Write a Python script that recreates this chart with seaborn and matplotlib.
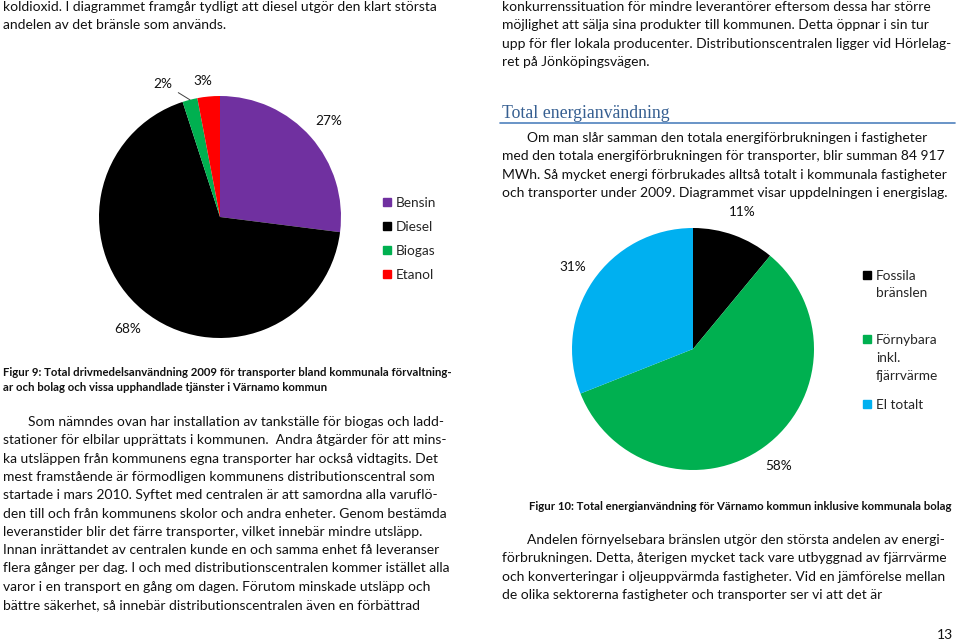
import matplotlib
matplotlib.use("Agg")
import matplotlib.pyplot as plt
from matplotlib.lines import Line2D
import numpy as np
import seaborn as sns

# ---------------- data ----------------
fuel_labels = ["Bensin", "Diesel", "Biogas", "Etanol"]
fuel_values = [27, 68, 2, 3]
fuel_colors = ["#7030A0", "#000000", "#00B050", "#FF0000"]

energy_labels = ["Fossila\nbränslen", "Förnybara\ninkl.\nfjärrvärme", "El totalt"]
energy_values = [11, 58, 31]
energy_colors = ["#000000", "#00B050", "#00B0F0"]

top_left_lines = [
    "koldioxid. I diagrammet framgår tydligt att diesel utgör den klart största",
    "andelen av det bränsle som används.",
]
top_right_lines = [
    "konkurrenssituation för mindre leverantörer eftersom dessa har större",
    "möjlighet att sälja sina produkter till kommunen. Detta öppnar i sin tur",
    "upp för fler lokala producenter. Distributionscentralen ligger vid Hörlelag-",
    "ret på Jönköpingsvägen.",
]
heading = "Total energianvändning"
energy_para = [
    "Om man slår samman den totala energiförbrukningen i fastigheter",
    "med den totala energiförbrukningen för transporter, blir summan 84 917",
    "MWh. Så mycket energi förbrukades alltså totalt i kommunala fastigheter",
    "och transporter under 2009. Diagrammet visar uppdelningen i energislag.",
]
caption9 = [
    "Figur 9: Total drivmedelsanvändning 2009 för transporter bland kommunala förvaltning-",
    "ar och bolag och vissa upphandlade tjänster i Värnamo kommun",
]
left_para = [
    "Som nämndes ovan har installation av tankställe för biogas och ladd-",
    "stationer för elbilar upprättats i kommunen.  Andra åtgärder för att mins-",
    "ka utsläppen från kommunens egna transporter har också vidtagits. Det",
    "mest framstående är förmodligen kommunens distributionscentral som",
    "startade i mars 2010. Syftet med centralen är att samordna alla varuflö-",
    "den till och från kommunens skolor och andra enheter. Genom bestämda",
    "leveranstider blir det färre transporter, vilket innebär mindre utsläpp.",
    "Innan inrättandet av centralen kunde en och samma enhet få leveranser",
    "flera gånger per dag. I och med distributionscentralen kommer istället alla",
    "varor i en transport en gång om dagen. Förutom minskade utsläpp och",
    "bättre säkerhet, så innebär distributionscentralen även en förbättrad",
]
caption10 = "Figur 10: Total energianvändning för Värnamo kommun inklusive kommunala bolag"
right_para = [
    "Andelen förnyelsebara bränslen utgör den största andelen av energi-",
    "förbrukningen. Detta, återigen mycket tack vare utbyggnad av fjärrvärme",
    "och konverteringar i oljeuppvärmda fastigheter. Vid en jämförelse mellan",
    "de olika sektorerna fastigheter och transporter ser vi att det är",
]
page_number = "13"

# ---------------- style ----------------
sns.set_theme(style="white")
plt.rcParams["font.family"] = ["Lato", "DejaVu Sans"]

W, H = 960, 642
fig = plt.figure(figsize=(W / 100, H / 100), dpi=100)
fig.patch.set_facecolor("white")

BODY = 10.0
CHART = 9.8
CAP = 8.2
TXT = "#111111"


def px(x, y):
    return x / W, 1 - y / H


def put(x, y, s, **kw):
    kw.setdefault("fontsize", BODY)
    kw.setdefault("color", TXT)
    fig.text(*px(x, y), s, va="center", ha=kw.pop("ha", "left"), **kw)


def lines(x0, y0, dy, items, indent=None, **kw):
    for i, s in enumerate(items):
        x = indent if (i == 0 and indent is not None) else x0
        put(x, y0 + i * dy, s, **kw)


lines(3, 7, 18.2, top_left_lines)
lines(502, 7, 18.3, top_right_lines)
put(502, 113, heading, fontsize=12.8, color="#365F91",
    family=["Liberation Serif", "DejaVu Serif"])
fig.add_artist(Line2D([500 / W, 955 / W], [1 - 123 / H, 1 - 123 / H],
                      color="#4F81BD", lw=1.2))
lines(502, 138, 18.4, energy_para, indent=527)
lines(3, 373, 14.5, caption9, fontweight="bold", fontsize=CAP)
lines(3, 422, 18.3, left_para, indent=28)
put(529, 507, caption10, fontweight="bold", fontsize=CAP)
lines(502, 540, 18.4, right_para, indent=527)
put(953, 635, page_number, ha="right")


def pie_axes(cx, cy, r):
    return fig.add_axes([(cx - r) / W, 1 - (cy + r) / H, 2 * r / W, 2 * r / H])


def draw_pie(ax, values, colors):
    wedges, _, autotexts = ax.pie(
        values, colors=colors, startangle=90, counterclock=False,
        autopct="%1.0f%%", pctdistance=1.2, radius=1,
        wedgeprops=dict(linewidth=0),
        textprops=dict(fontsize=CHART, color=TXT),
    )
    ax.set_xlim(-1, 1)
    ax.set_ylim(-1, 1)
    ax.set_aspect("equal")
    ax.axis("off")
    return wedges, autotexts


def top_align(leg):
    for col in leg._legend_handle_box.get_children():
        for item in col.get_children():
            item.align = "top"


# left pie
ax1 = pie_axes(220, 217, 121)
w1, t1 = draw_pie(ax1, fuel_values, fuel_colors)
bio = w1[2]
mid = np.deg2rad((bio.theta1 + bio.theta2) / 2)
lab = np.deg2rad((bio.theta1 + bio.theta2) / 2 + 9)
t1[2].set_position((1.2 * np.cos(lab), 1.2 * np.sin(lab)))
ax1.plot([1.12 * np.cos(lab) + 0.1, 1.0 * np.cos(mid)],
         [1.12 * np.sin(lab), 1.0 * np.sin(mid)],
         color="#404040", lw=0.7, clip_on=False)
eta = w1[3]
ang = np.deg2rad((eta.theta1 + eta.theta2) / 2 + 2)
t1[3].set_position((1.13 * np.cos(ang), 1.13 * np.sin(ang)))

h1 = [Line2D([], [], marker="s", ls="", color=c, markersize=6) for c in fuel_colors]
leg1 = fig.legend(h1, fuel_labels, loc="upper left", bbox_to_anchor=px(375, 190),
                  frameon=False, fontsize=CHART, handlelength=0.7, handletextpad=0.35,
                  labelspacing=0.89, borderpad=0)

# right pie
ax2 = pie_axes(693, 349, 121)
w2, t2 = draw_pie(ax2, energy_values, energy_colors)

h2 = [Line2D([], [], marker="s", ls="", color=c, markersize=6) for c in energy_colors]
leg_labels = [energy_labels[0] + "\n"] + energy_labels[1:]
leg2 = fig.legend(h2, leg_labels, loc="upper left", bbox_to_anchor=px(855, 263),
                  frameon=False, fontsize=CHART, handlelength=0.7, handletextpad=0.35,
                  labelspacing=1.3, borderpad=0)
for t in leg2.get_texts():
    t.set_linespacing(1.55)
top_align(leg2)

fig.savefig("out.png", dpi=100, facecolor="white")
